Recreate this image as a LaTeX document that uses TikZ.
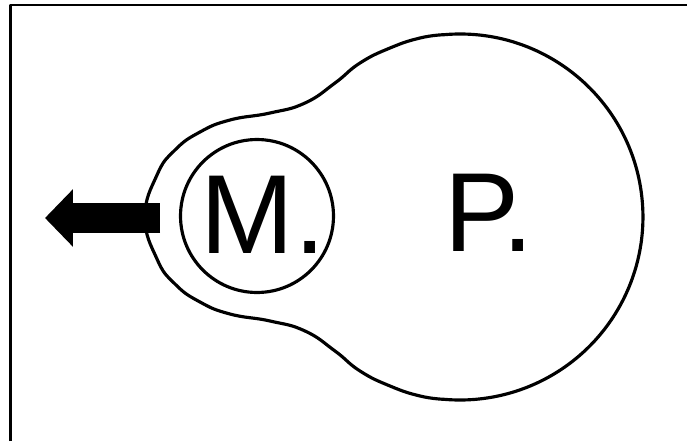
\documentclass[tikz,border=0pt]{standalone}
\usepackage{fontspec}
\setmainfont{Liberation Sans}
\usetikzlibrary{arrows.meta}
\begin{document}
\begin{tikzpicture}[x=0.02cm, y=0.02cm, line join=round, line cap=round,
    font=\fontsize{64}{64}\selectfont,
    outline/.style={line width=1.8pt}]
    \useasboundingbox (0,0) rectangle (687,441);
    \draw[line width=1.4pt, line cap=butt] (10.5,0) -- (10.5,436) -- (687,436);
    % cell body
    \draw[outline] (444,406.3) arc[start angle=95, end angle=-95, radius=183]
        -- plot[smooth, tension=0.8] coordinates{
        (444,41.7) (420,45) (390,55) (360,70) (335,90) (305,110)
        (270,120) (230,127) (200,139) (175,157) (157,182) (145,224)
        (157,266) (175,291) (200,309) (230,321) (270,328) (305,338)
        (335,358) (360,378) (390,393) (420,403) (444,406.3)} -- cycle;
    \node[outline, draw, circle, minimum size=3.06cm, inner sep=0pt] (nucleus) at (257,225) {};
    \node (nucleustext) at (263,226) {M.};
    \node (body) at (489,228) {P\kern-.15em.};
    % pull
    \coordinate (tail) at (160,223);
    \coordinate (tip) at (45,223);
    \draw[-{Triangle[length=0.56cm,width=1.12cm]}, line width=0.6cm, line cap=butt] (tail) -- (tip);
\end{tikzpicture}
\end{document}
